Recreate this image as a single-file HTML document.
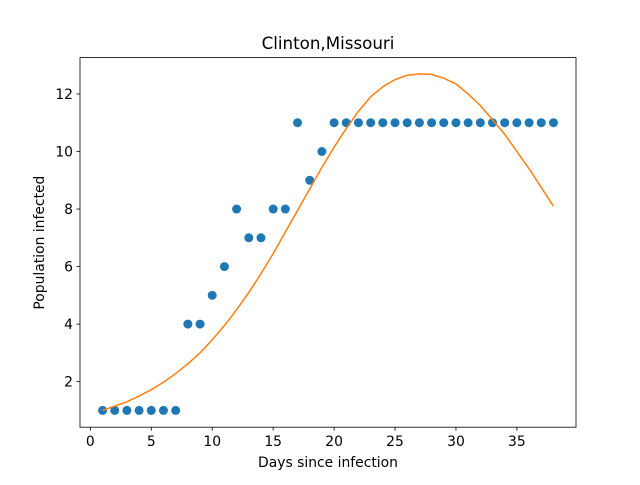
<!DOCTYPE html>
<html><head><meta charset="utf-8"><style>
body{margin:0;background:#fff}
svg text{font-family:"DejaVu Sans","Liberation Sans",sans-serif;fill:#000}
</style></head><body>
<svg id="chart" width="640" height="480" xmlns="http://www.w3.org/2000/svg">
<rect width="640" height="480" fill="#fff"/>
<text x="328" y="49" font-size="16.7" text-anchor="middle">Clinton,Missouri</text>
<text x="328" y="467" font-size="13.9" text-anchor="middle">Days since infection</text>
<text transform="translate(44,242.6) rotate(-90)" font-size="13.9" text-anchor="middle">Population infected</text>
<g id="ticks"></g>
<g id="marks"></g>
<rect x="80" y="57.6" width="496" height="369.6" fill="none" stroke="#000" stroke-width="0.8"/>
</svg>
<script>
const days = [1,2,3,4,5,6,7,8,9,10,11,12,13,14,15,16,17,18,19,20,21,22,23,24,25,26,27,28,29,30,31,32,33,34,35,36,37,38];
const observed = [1,1,1,1,1,1,1,4,4,5,6,8,7,7,8,8,11,9,10,11,11,11,11,11,11,11,11,11,11,11,11,11,11,11,11,11,11,11];
const fitted = [1.0,1.15,1.3,1.5,1.72,1.98,2.28,2.62,3.0,3.45,3.95,4.5,5.1,5.75,6.45,7.2,7.95,8.7,9.45,10.15,10.8,11.4,11.9,12.25,12.5,12.65,12.7,12.68,12.55,12.35,12.0,11.6,11.1,10.6,10.0,9.4,8.75,8.1];
const xTicks = [0,5,10,15,20,25,30,35];
const yTicks = [2,4,6,8,10,12];
const NS = "http://www.w3.org/2000/svg";
const L=80,R=576,T=57.6,B=427.2;
const xmin=-0.85,xmax=39.85,ymin=0.416,ymax=13.264;
const sx=v=>L+(v-xmin)/(xmax-xmin)*(R-L);
const sy=v=>B-(v-ymin)/(ymax-ymin)*(B-T);
function mk(tag,attrs,parent){const e=document.createElementNS(NS,tag);for(const k in attrs)e.setAttribute(k,attrs[k]);parent.appendChild(e);return e;}
const tg=document.getElementById('ticks'), mg=document.getElementById('marks');
xTicks.forEach(v=>{
  const l=mk('line',{x1:sx(v),x2:sx(v),y1:B,y2:B+3.5,stroke:'#000','stroke-width':0.8},tg);
  
  
  const t=mk('text',{x:sx(v),y:B+19,'font-size':13.9,'text-anchor':'middle'},tg);
  t.textContent=v;
  
  
});
yTicks.forEach(v=>{
  const l=mk('line',{x1:L-3.5,x2:L,y1:sy(v),y2:sy(v),stroke:'#000','stroke-width':0.8},tg);
  
  
  const t=mk('text',{x:L-7,y:sy(v)+5,'font-size':13.9,'text-anchor':'end'},tg);
  t.textContent=v;
  
  
});
days.forEach((d,i)=>{
  const c=mk('circle',{cx:sx(d),cy:sy(observed[i]),r:4.5,fill:'#1f77b4'},mg);
  
  
});
const p=mk('polyline',{points:days.map((d,i)=>sx(d)+','+sy(fitted[i])).join(' '),fill:'none',stroke:'#ff7f0e','stroke-width':1.5},mg);


</script>
</body></html>
